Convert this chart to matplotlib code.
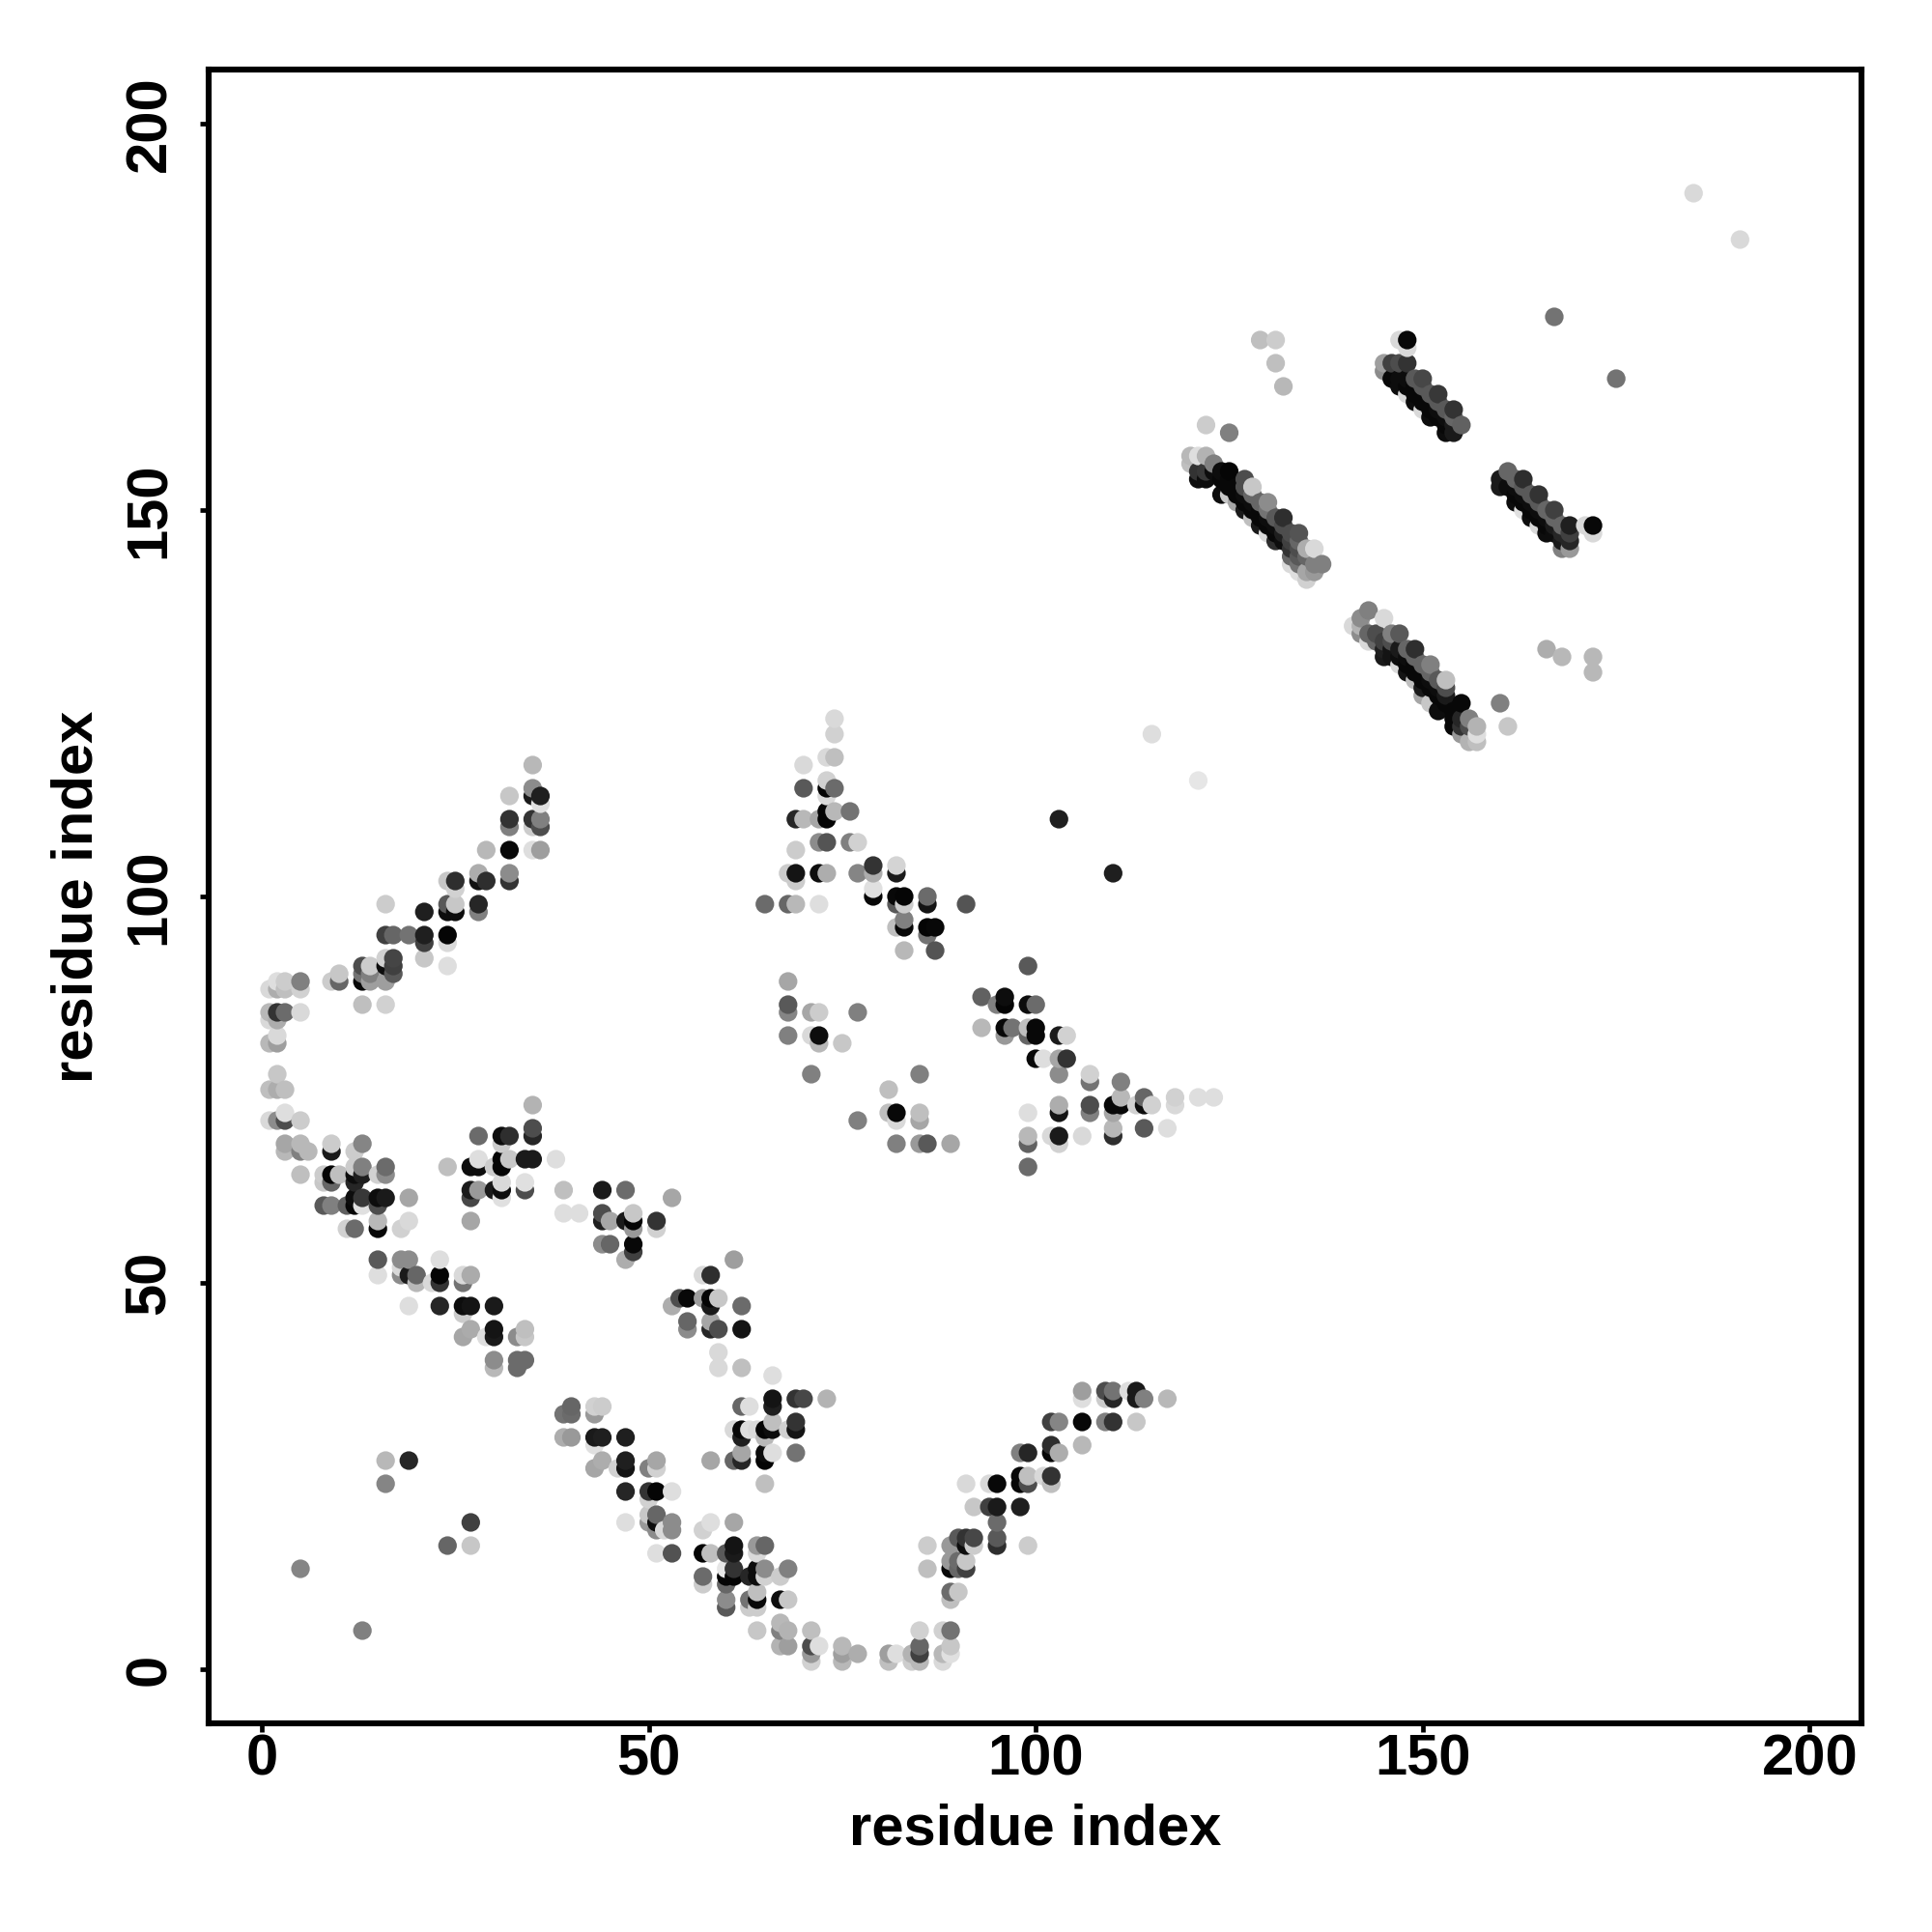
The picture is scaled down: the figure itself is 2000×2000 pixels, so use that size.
import numpy as np
import matplotlib
matplotlib.use("Agg")
import matplotlib.pyplot as plt

# contacts as (i, j, grey level), one list per region
arm_upper_left = [
    (35,117,.72),(35,114,.55),(35,113,.1),(36,113,.12),(36,112,.88),(32,113,.78),(32,110,.2),(32,109,.5),
    (35,110,.2),(36,110,.5),(36,109,.3),(35,109,.8),(29,106,.72),(32,106,.03),(35,106,.87),(36,106,.62),
    (28,103,.68),(32,103,.55),(32,102,.2),(28,102,.07),(29,102,.18),(24,102,.78),(25,102,.18),(25,101,.82),
    (28,99,.15),(28,98,.5),(24,98,.05),(25,98,.05),(24,99,.35),(25,99,.78),(21,98,.12),(21,95,.12),(21,94,.25),
    (21,92,.78),(24,95,.02),(24,94,.85),(24,91,.87),(16,95,.25),(17,95,.4),(19,95,.45),(16,99,.8),(16,92,.82),
    (16,91,.05),(17,92,.27),(17,91,.25),(17,90,.35),(16,89,.62),(13,91,.3),(14,91,.8),(13,90,.45),(14,90,.5),
    (13,89,.03),(14,89,.62),(10,90,.78),(9,89,.8),(10,89,.4),(13,86,.75),(16,86,.82),(1,88,.85),(2,89,.87),
    (3,89,.8),(2,88,.68),(3,88,.75),(5,89,.5),(5,88,.82),(1,85,.72),(2,85,.2),(3,85,.42),(5,85,.85),(1,84,.85),
    (2,84,.68),(1,81,.72),(2,82,.85),(2,81,.62),
]
arm_lower_left = [
    (2,77,.78),(1,75,.75),(2,75,.68),(3,75,.75),(1,71,.85),(2,71,.55),(3,72,.87),(3,71,.3),(5,71,.8),
    (3,68,.65),(3,67,.72),(5,68,.72),(5,67,.5),(6,67,.72),(5,64,.75),(9,68,.8),(9,67,.1),(12,67,.8),(13,68,.52),
    (12,65,.8),(13,65,.5),(8,64,.8),(9,64,.02),(10,64,.75),(8,63,.78),(9,63,.4),(12,64,.05),(13,64,.12),
    (12,63,.15),(15,64,.82),(16,65,.42),(16,64,.55),(8,60,.35),(9,60,.5),(11,60,.38),(12,61,.05),(12,60,.03),
    (13,61,.22),(13,60,.88),(15,61,.05),(16,61,.1),(15,60,.3),(19,61,.65),(11,57,.82),(12,57,.42),(15,58,.72),
    (15,57,.03),(18,57,.82),(19,58,.85),(15,53,.35),(15,51,.87),(18,53,.55),(19,53,.55),(18,52,.85),(18,51,.55),
    (19,51,.1),(20,51,.4),(20,50,.72),(22,50,.85),(23,53,.87),(23,51,.02),(23,50,.2),(26,51,.85),(27,51,.67),
    (26,50,.45),(19,47,.87),(23,47,.15),(26,47,.05),(27,47,.08),(30,47,.1),(26,46,.8),(27,44,.67),(26,43,.65),
    (29,43,.87),(30,44,.08),(30,43,.1),(33,43,.55),(34,44,.75),(34,43,.78),(30,40,.55),(30,39,.72),(33,40,.42),
    (34,40,.42),(33,39,.42),
]
block_30s = [
    (35,73,.7),(35,70,.3),(35,69,.15),(28,69,.42),(31,69,.05),(32,69,.18),(31,68,.8),(24,65,.75),(27,65,.05),
    (28,65,.05),(28,66,.87),(30,65,.8),(31,66,.02),(31,65,.02),(32,66,.78),(34,66,.1),(35,66,.1),(38,66,.87),
    (31,63,.85),(31,62,.05),(31,61,.88),(27,62,.1),(27,61,.28),(28,62,.6),(30,62,.1),(34,63,.88),(34,62,.3),
    (27,58,.65),
]
block_40s = [
    (39,62,.75),(39,59,.87),(41,59,.87),(44,62,.1),(47,62,.42),(44,59,.3),(44,58,.12),(45,58,.65),(47,58,.1),
    (48,59,.78),(48,58,.02),(44,55,.55),(45,55,.4),(48,55,.03),(48,54,.25),(47,53,.68),(48,57,.6),(51,58,.2),
    (51,57,.82),(53,61,.65),
]
block_50s = [
    (61,53,.62),(57,51,.85),(58,51,.18),(53,47,.68),(54,48,.3),(55,48,.03),(57,48,.62),(58,48,.02),(58,47,.1),
    (59,48,.78),(62,47,.42),(55,45,.4),(55,44,.55),(58,45,.65),(58,44,.15),(59,44,.3),(62,44,.08),(59,41,.85),
    (59,39,.85),(62,39,.75),(66,38,.87),
]
block_60s = [
    (73,35,.7),(66,35,.08),(66,34,.12),(69,35,.2),(70,35,.28),(62,34,.4),(63,34,.87),(66,32,.75),(62,31,.03),
    (62,30,.12),(61,31,.85),(63,31,.87),(64,31,.85),(65,31,.02),(66,31,.05),(65,30,.72),(68,31,.82),(69,32,.2),
    (69,31,.08),(58,27,.65),(61,27,.4),(62,28,.65),(62,27,.15),(65,28,.05),(65,27,.02),(66,28,.87),(69,28,.45),
    (65,24,.75),
]
strand_lower = [
    (39,33,.45),(40,34,.4),(40,33,.42),(43,34,.82),(44,34,.8),(43,33,.6),(39,30,.68),(40,30,.6),(43,30,.1),
    (44,30,.12),(43,29,.88),(47,30,.12),(43,26,.65),(44,27,.68),(46,26,.82),(47,27,.12),(47,26,.08),(50,26,.5),
    (51,27,.65),(51,26,.82),(47,23,.15),(50,23,.2),(51,23,.02),(53,23,.87),(50,22,.82),(47,19,.87),(50,20,.78),
    (51,20,.4),(50,19,.6),(51,19,.05),(52,18,.85),(53,19,.55),(53,18,.55),(51,18,.55),(51,15,.87),(53,15,.32),
    (57,18,.82),(58,19,.87),(61,19,.65),(61,16,.08),(61,15,.1),(60,15,.35),(57,15,.02),(58,15,.75),(64,16,.6),
    (65,16,.4),(64,15,.85),(57,12,.42),(57,11,.8),(60,13,.9),(61,13,.2),(60,12,.02),(61,12,.02),(60,11,.4),
    (63,12,.15),(64,13,.05),(64,12,.05),(65,13,.55),(65,12,.82),(67,12,.8),(68,13,.5),(60,9,.55),(60,8,.35),
    (63,9,.45),(63,8,.8),(64,10,.75),(64,9,.03),(64,8,.8),(67,9,.05),(68,9,.78),
]
turn_bottom = [
    (64,5,.78),(67,6,.72),(67,5,.5),(68,5,.7),(67,3,.7),(68,3,.62),(71,5,.75),(71,3,.3),(71,2,.6),(72,3,.87),
    (71,1,.82),(75,3,.72),(75,2,.62),(75,1,.72),(77,2,.68),(81,2,.62),(81,1,.75),(82,2,.87),(84,2,.7),(85,5,.82),
    (85,3,.4),(85,2,.25),(84,1,.8),(85,1,.72),(88,5,.82),(89,5,.45),(88,2,.72),(89,3,.78),(89,2,.88),(88,1,.85),
]
strand_rising = [
    (89,10,.42),(90,10,.78),(89,9,.75),(91,24,.85),(94,24,.85),(95,24,.03),(92,21,.78),(94,21,.25),(95,21,.1),
    (98,21,.12),(98,25,.03),(98,24,.03),(99,25,.75),(99,24,.3),(101,25,.85),(102,25,.2),(102,24,.75),(98,28,.5),
    (99,28,.15),(102,29,.18),(102,28,.03),(103,28,.68),(106,29,.72),(102,32,.25),(103,32,.52),(106,32,.03),
    (109,32,.5),(110,32,.2),(113,32,.78),(106,36,.62),(106,35,.87),(109,36,.3),(110,36,.45),(109,35,.8),(110,35,.15),
    (112,36,.87),(113,36,.1),(113,35,.1),(114,35,.5),(117,35,.72),(86,16,.8),(86,13,.75),(89,16,.6),(90,17,.35),
    (91,17,.2),(92,17,.28),(91,16,.05),(92,16,.8),(95,19,.42),(95,17,.35),(95,16,.18),(99,16,.8),(89,14,.6),
    (90,14,.42),(91,14,.78),(89,13,.03),(90,13,.4),(91,13,.25),
]
cone_70s = [
    (74,123,.85),(74,121,.82),(73,118,.85),(74,118,.75),(70,117,.85),(73,115,.82),(70,114,.35),(73,114,.02),
    (74,114,.42),(73,113,.85),(76,111,.45),(73,111,.02),(74,111,.72),(69,110,.15),(70,110,.72),(72,110,.65),
    (73,110,.02),(69,106,.8),(72,107,.55),(73,107,.33),(76,107,.5),(77,107,.82),(68,103,.8),(69,103,.08),
    (69,102,.8),(72,103,.05),(73,103,.68),(77,103,.52),(79,104,.2),(79,103,.68),(82,104,.83),(82,103,.1),
    (65,99,.42),(68,99,.4),(69,99,.72),(72,99,.87),(79,101,.88),(79,100,.03),(82,100,.03),(83,100,.02),(82,99,.35),
    (83,99,.8),(86,100,.42),(86,99,.08),(91,99,.33),(82,96,.75),(83,97,.5),(83,96,.03),(86,96,.02),(87,96,.03),
    (86,95,.45),(83,93,.72),(87,93,.33),(103,110,.12),(110,103,.12),
]
block_80s = [
    (68,89,.65),(68,86,.35),(68,85,.52),(68,82,.5),(71,85,.65),(72,85,.8),(77,85,.5),(71,82,.85),(72,82,.05),
    (72,81,.72),(75,81,.78),(71,77,.5),(85,77,.5),(81,75,.75),(81,72,.75),(82,72,.03),(82,71,.85),(85,72,.75),
    (85,71,.65),(77,71,.5),(82,68,.5),(85,68,.6),(86,68,.35),(89,68,.65),
]
block_90s = [
    (93,87,.38),(95,86,.5),(96,87,.05),(96,86,.02),(99,91,.35),(99,86,.05),(100,86,.42),(93,83,.72),(96,83,.03),
    (97,83,.45),(96,82,.6),(99,83,.75),(100,83,.03),(99,82,.4),(100,82,.03),(103,82,.1),(104,82,.82),(100,79,.03),
    (101,79,.87),(103,79,.65),(104,79,.2),(103,77,.55),(107,77,.82),(107,76,.45),(111,76,.5),(107,73,.3),(107,72,.5),
    (103,73,.68),(103,72,.08),(99,72,.87),(110,73,.03),(111,73,.03),(111,74,.72),(110,72,.65),(113,73,.82),
    (114,74,.4),(114,73,.05),(115,73,.82),(110,70,.72),(110,69,.18),(114,70,.35),(99,69,.72),(99,68,.38),(99,65,.42),
    (102,69,.85),(103,69,.1),(103,68,.82),(106,69,.85),(117,70,.87),(118,74,.82),(118,73,.85),(121,74,.87),(123,74,.87),
]
isolated = [
    (185,191,.85),(191,185,.85),(167,175,.45),(175,167,.45),(115,121,.87),(121,115,.9),(129,172,.75),(131,172,.8),
    (131,169,.75),(132,166,.72),(5,13,.52),(13,5,.5),(16,27,.72),(16,24,.52),(19,27,.15),(24,16,.4),(27,19,.25),
    (27,16,.78),(122,161,.8),(125,160,.5),(160,125,.5),(161,122,.78),(166,132,.68),(168,131,.72),(172,131,.72),
    (172,129,.72),
]
band_a = [
    (120,157,.72),(120,156,.75),(121,157,.87),(122,157,.7),(123,156,.5),(125,155,.02),(128,153,.78),(130,151,.55),
    (132,149,.18),(134,147,.33),(136,145,.85),(135,145,.68),(137,143,.5),(121,155,.2),(121,154,.05),(122,154,.05),
    (122,155,.22),(124,152,.05),(127,150,.1),(129,148,.1),(131,146,.18),(125,152,.78),(126,151,.65),(128,149,.75),
    (130,147,.85),(133,144,.4),(133,143,.85),(134,142,.87),(135,141,.82),(134,144,.35),(134,143,.45),(135,144,.4),
    (135,142,.65),(136,143,.5),(136,142,.6),(123,155,.05),(124,154,.03),(125,153,.03),(126,152,.03),(127,151,.03),
    (128,150,.03),(129,149,.03),(130,148,.03),(131,147,.03),(132,146,.05),(133,145,.2),(124,155,.05),(125,154,.03),
    (126,153,.03),(127,152,.05),(128,151,.05),(129,150,.03),(130,149,.05),(131,148,.05),(132,147,.12),(133,146,.25),
    (134,145,.3),(127,154,.3),(127,153,.3),(128,152,.4),(129,151,.4),(130,150,.45),(131,149,.35),(132,148,.3),
    (133,147,.3),(134,146,.4),
]
band_b = [
    (143,137,.5),(142,136,.55),(141,135,.85),(145,136,.85),(146,134,.5),(147,134,.35),(149,132,.18),(151,130,.5),
    (153,128,.75),(153,127,.3),(155,125,.03),(156,123,.5),(157,122,.7),(157,121,.87),(156,120,.7),(157,120,.75),
    (155,121,.6),(142,135,.7),(142,134,.55),(143,133,.85),(143,134,.4),(144,133,.4),(144,134,.3),(145,132,.12),
    (145,131,.1),(146,131,.08),(148,129,.08),(150,127,.1),(152,124,.05),(154,122,.03),(147,130,.85),(149,128,.75),
    (150,126,.65),(151,125,.78),(155,122,.2),(145,133,.25),(146,132,.08),(147,131,.05),(148,130,.03),(149,129,.03),
    (150,128,.03),(151,127,.03),(152,126,.03),(153,125,.03),(154,124,.03),(155,123,.15),(146,133,.3),(147,132,.1),
    (148,131,.05),(149,130,.03),(150,129,.03),(151,128,.05),(152,127,.05),(153,126,.1),(148,132,.4),(149,131,.4),
    (150,130,.4),(151,129,.4),(152,128,.35),(154,123,.03),(156,122,.3),
]
band_c = [
    (148,172,.03),(147,172,.85),(148,171,.85),(145,169,.62),(145,168,.55),(146,169,.25),(147,169,.3),(148,169,.2),
    (150,167,.28),(152,165,.22),(154,163,.2),(155,161,.38),(154,160,.1),(153,160,.05),(151,162,.05),(149,164,.05),
    (147,166,.05),(146,167,.03),(148,165,.85),(150,163,.85),(147,167,.05),(148,166,.03),(149,165,.03),(150,164,.03),
    (151,163,.03),(152,162,.03),(153,161,.03),(148,167,.05),(149,166,.03),(150,165,.03),(151,164,.03),(152,163,.05),
    (153,162,.05),(154,161,.1),(149,167,.35),(150,166,.35),(151,165,.35),(152,164,.35),(153,163,.35),(154,162,.4),
]
band_d = [
    (161,155,.4),(160,154,.1),(160,153,.1),(163,154,.18),(165,152,.2),(167,150,.25),(169,148,.12),(169,147,.25),
    (169,146,.15),(168,145,.5),(169,145,.6),(171,148,.85),(172,148,.03),(172,147,.85),(162,151,.05),(164,149,.05),
    (166,147,.05),(168,146,.1),(163,150,.88),(165,148,.85),(161,153,.05),(162,152,.03),(163,151,.03),(164,150,.03),
    (165,149,.03),(166,148,.03),(167,147,.05),(162,153,.05),(163,152,.05),(164,151,.05),(165,150,.05),(166,149,.05),
    (167,148,.1),(168,147,.15),(162,154,.4),(163,153,.35),(164,152,.35),(165,151,.35),(166,150,.4),(167,149,.4),
    (168,148,.4),
]

ticks = [0, 50, 100, 150, 200]

regions = [arm_upper_left, arm_lower_left, block_30s, block_40s, block_50s, block_60s, strand_lower,
           turn_bottom, strand_rising, cone_70s, block_80s, block_90s, isolated, band_a, band_b, band_c, band_d]
pts = np.array([p for r in regions for p in r])
# original plots in order of i then j, so later ones sit on top
order = np.lexsort((pts[:, 1], pts[:, 0]))
pts = pts[order]

plt.rcParams['font.family'] = ['Liberation Sans', 'DejaVu Sans']
plt.rcParams['font.weight'] = 'bold'

fig = plt.figure(figsize=(10, 10), dpi=200)
ax = fig.add_axes([216/2000, 1-1784/2000, (1927-216)/2000, (1784-72)/2000])
ax.scatter(pts[:, 0], pts[:, 1], s=48, c=[str(g) for g in pts[:, 2]], linewidths=0)

ax.set_xlim((216-271)/8.012, (1927-271)/8.012)
ax.set_ylim((1728-1784)/8, (1728-72)/8)
ax.set_xticks(ticks)
ax.set_yticks(ticks)
ax.tick_params(length=3.2, width=1.7, labelsize=21.5)
ax.tick_params(axis='x', pad=0.5)
ax.tick_params(axis='y', pad=8.7)
for lab in ax.get_yticklabels():
    lab.set_rotation(90)
    lab.set_va('center')
ax.set_xlabel("residue index", fontsize=21.5, fontweight='bold', labelpad=6.3)
ax.set_ylabel("residue index", fontsize=21.5, fontweight='bold', labelpad=7.2)
for s in ax.spines.values():
    s.set_linewidth(2.2)

plt.savefig("out.png", dpi=200)
